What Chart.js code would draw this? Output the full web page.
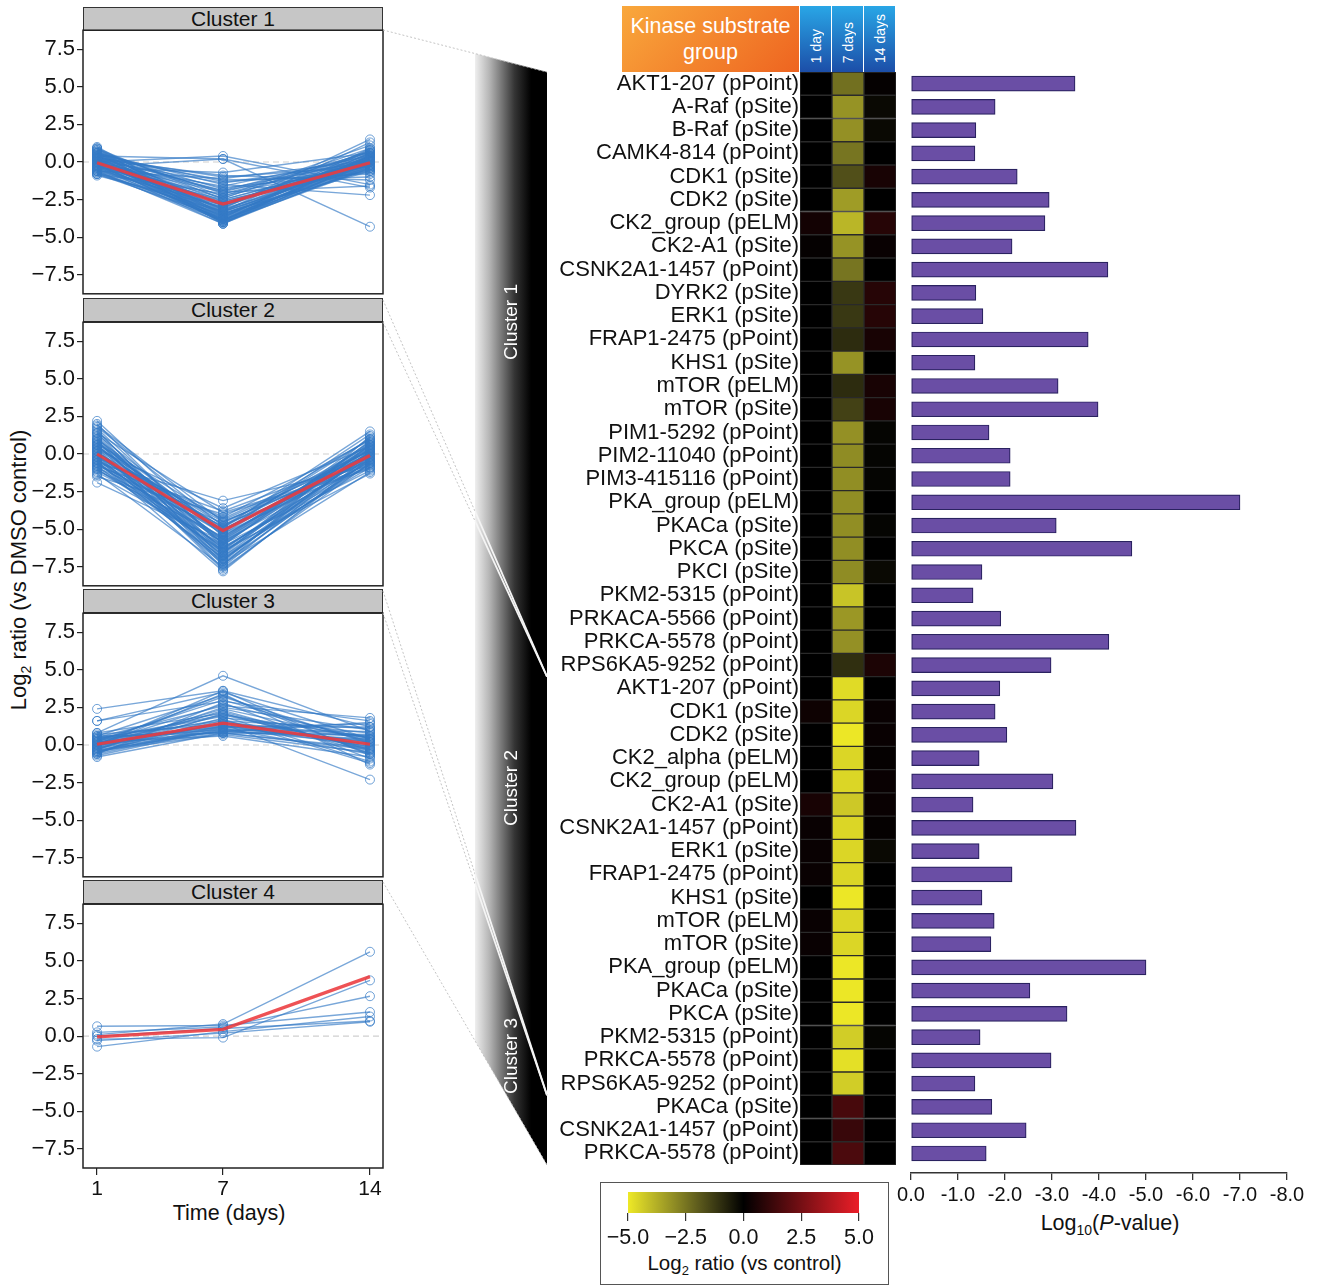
<!DOCTYPE html>
<html>
<head>
<meta charset="utf-8">
<script src="https://cdn.jsdelivr.net/npm/chart.js@4.4.1/dist/chart.umd.min.js"></script>
<style>
  body { margin: 0; background: #fff; font-family: "Liberation Sans", Arial, sans-serif; color: #111; }
  #page { position: relative; width: 1321px; height: 1286px; overflow: hidden; }
  canvas { position: absolute; }
  .hdr { position: absolute; left: 83px; width: 300px; height: 24px; box-sizing: border-box;
         background: #c6c6c6; border: 1.5px solid #333; font-size: 21px; line-height: 21px; text-align: center; }
  .txt { position: absolute; white-space: nowrap; }
  .colh { position: absolute; top: 6px; width: 31px; height: 66px; background: linear-gradient(to bottom, #29a6e6, #1c4ea8);
          display: flex; align-items: flex-end; justify-content: center; color: #fff; font-size: 14px; }
  .colh span { writing-mode: vertical-rl; transform: rotate(180deg); margin-bottom: 9px; }
</style>
</head>
<body>
<div id="page">
  <div class="hdr" style="top:7px">Cluster 1</div>
  <div class="hdr" style="top:298px">Cluster 2</div>
  <div class="hdr" style="top:589px">Cluster 3</div>
  <div class="hdr" style="top:880px">Cluster 4</div>

  <div class="txt" style="left:20px;top:570px;font-size:22px;transform:translate(-50%,-50%) rotate(-90deg)">Log<sub style="font-size:14px">2</sub> ratio (vs DMSO control)</div>
  <div class="txt" style="left:129px;top:1201px;width:200px;text-align:center;font-size:21.5px">Time (days)</div>

  <div style="position:absolute;left:622px;top:6px;width:177px;height:66px;background:linear-gradient(135deg,#f9a83c,#ee6420);color:#fff;font-size:21.5px;line-height:26px;text-align:center;padding-top:7px;box-sizing:border-box">Kinase substrate<br>group</div>
  <div class="colh" style="left:800px"><span>1 day</span></div>
  <div class="colh" style="left:832px"><span>7 days</span></div>
  <div class="colh" style="left:864px"><span>14 days</span></div>

  <div style="position:absolute;left:600px;top:1182px;width:289px;height:103px;border:1.5px solid #555;box-sizing:border-box"></div>
  <div class="txt" style="left:600px;top:1251px;width:289px;text-align:center;font-size:20.5px">Log<sub style="font-size:13px">2</sub> ratio (vs control)</div>
  <div class="txt" style="left:990px;top:1211px;width:240px;text-align:center;font-size:21.5px">Log<sub style="font-size:14px">10</sub>(<i>P</i>-value)</div>

  <canvas id="c1"></canvas>
  <canvas id="c2"></canvas>
  <canvas id="c3"></canvas>
  <canvas id="c4"></canvas>
  <canvas id="heat"></canvas>
  <canvas id="bars"></canvas>
  <canvas id="cbar"></canvas>
</div>
<script>
// ---- data ----
var timePoints = [1, 7, 14];
var yTicks = [-7.5, -5, -2.5, 0, 2.5, 5, 7.5];
var pTicks = [0, -1, -2, -3, -4, -5, -6, -7, -8];
var colorbarTicks = [-5, -2.5, 0, 2.5, 5];

// individual profiles (day 1, day 7, day 14)
var cluster1Lines = [
  [0.9,-3.9,0.3],[1.0,-3.5,0.6],[0.7,-4.1,-0.2],[0.5,-3.8,0.1],[0.3,-3.2,0.4],[0.2,-4.0,0.0],[0.0,-3.6,-0.3],
  [-0.2,-3.9,0.2],[-0.4,-3.4,-0.5],[-0.6,-4.1,0.5],[-0.8,-3.7,-0.1],[-0.9,-3.0,0.3],[0.6,-2.9,0.8],[0.4,-2.6,-0.4],
  [0.1,-2.8,0.2],[-0.1,-2.4,0.9],[-0.3,-2.2,-0.6],[-0.5,-2.7,0.0],[0.8,-2.3,1.1],[0.3,-1.9,-0.2],[-0.2,-1.6,0.4],
  [0.5,-1.3,-0.8],[-0.6,-1.1,0.1],[0.2,-0.9,-1.2],[-0.4,-0.7,0.6],[0.7,-3.3,1.3],[0.0,0.4,-1.5],[-0.3,0.2,-4.3],
  [0.4,0.2,-1.7],[0.6,-1.5,-2.2],[-0.1,-2.0,-1.6],[0.2,-3.1,1.5],[-0.7,-3.5,-0.2],[0.1,-4.0,-0.4],[-0.5,-3.0,0.7],
  [0.9,-2.5,0.0],[-0.8,-2.1,-0.3],[0.3,-1.2,-1.0],[-0.2,-3.8,0.3],[0.5,-2.0,0.5],[0.0,-3.3,-0.1],[-0.6,-2.9,0.2],
  [0.2,-1.7,-0.7],[0.6,-3.7,0.9],[-0.3,-4.1,0.1],
  [0.8,-3.6,0.4],[0.4,-3.9,-0.1],[0.1,-3.7,0.6],[-0.3,-3.3,0.0],[-0.7,-3.9,0.3],[0.6,-4.0,-0.3],[0.3,-3.5,0.2],
  [-0.1,-3.1,-0.2],[-0.5,-3.6,0.4],[0.2,-2.7,-0.5],[0.7,-2.1,0.3],[-0.4,-2.5,0.1],[0.0,-1.9,0.6],[0.5,-3.4,-0.6],
  [-0.2,-2.9,0.5],[0.9,-3.2,0.2],[-0.6,-3.8,-0.4],[0.1,-1.4,0.0],[0.4,-2.4,0.7],[-0.8,-3.3,0.1],[0.2,-3.9,0.8],
  [-0.3,-2.6,-0.2],[0.6,-1.8,0.1],[-0.1,-4.0,0.4],[0.3,-1.0,-0.3]
];
var cluster1Mean = [-0.05, -2.8, -0.05];

var cluster2Lines = [
  [2.2,-5.5,0.3],[2.0,-6.2,-0.5],[1.8,-4.8,1.0],[1.6,-7.0,0.2],[1.4,-3.9,-0.9],[1.2,-6.6,0.6],[1.0,-5.1,-0.2],
  [0.9,-7.4,1.2],[0.7,-4.4,0.0],[0.6,-6.0,-1.1],[0.5,-5.7,0.8],[0.4,-7.7,-0.3],[0.3,-3.6,0.5],[0.2,-6.8,-0.7],
  [0.1,-4.9,1.5],[0.0,-5.9,0.1],[-0.1,-7.2,-0.4],[-0.2,-4.2,0.9],[-0.3,-6.4,-1.3],[-0.4,-5.3,0.4],[-0.5,-7.8,-0.1],
  [-0.6,-3.1,-0.8],[-0.7,-5.6,0.7],[-0.8,-6.9,-0.6],[-0.9,-4.6,0.2],[-1.0,-6.1,1.1],[-1.1,-5.0,-0.2],[-1.3,-7.5,0.3],
  [-1.5,-4.0,-1.0],[-1.9,-5.8,-0.5],[1.5,-6.5,0.0],[0.8,-5.4,-0.3],[-0.2,-6.7,0.6],[0.4,-4.7,-0.9],[1.1,-7.1,0.4],
  [-0.6,-5.2,1.3],[0.2,-6.3,-0.1],[-0.4,-4.3,0.2],[0.6,-7.6,-0.6],[-1.2,-5.5,0.5],[1.9,-4.5,-0.4],[0.0,-6.6,0.9],
  [-0.8,-3.8,-0.2],[0.9,-5.9,0.7],[-0.3,-7.3,-1.2],
  [1.7,-6.0,0.4],[1.3,-5.3,-0.6],[0.8,-6.8,0.1],[0.5,-4.9,0.6],[0.2,-7.0,-0.2],[-0.1,-5.6,0.3],[-0.4,-6.2,-0.7],
  [-0.7,-4.8,0.0],[-1.0,-6.4,0.5],[0.3,-5.0,-0.4],[1.0,-5.8,0.8],[-0.5,-7.1,0.2],[0.6,-6.3,-0.1],[-0.2,-5.1,1.0],
  [1.4,-7.3,-0.3],[-0.9,-5.7,0.1],[0.1,-4.5,-0.5],[-1.4,-6.0,0.6],[0.7,-5.2,0.3],[-0.6,-6.5,-0.9]
];
var cluster2Mean = [0.0, -5.1, -0.1];

var cluster3Lines = [
  [2.4,3.6,1.2],[1.6,3.5,0.4],[1.6,2.9,1.6],[0.8,4.6,0.9],[0.6,3.3,-0.6],[0.5,2.6,1.8],[0.4,1.9,-1.1],[0.3,3.0,0.2],
  [0.2,1.2,1.4],[0.1,2.2,-0.3],[0.0,0.9,0.6],[-0.1,3.4,-1.3],[-0.2,1.5,0.0],[-0.3,2.5,1.0],[-0.4,0.7,-0.5],
  [-0.5,1.8,0.8],[-0.6,2.8,-0.9],[-0.7,1.1,0.3],[-0.8,0.8,-0.2],[0.7,1.4,-2.3],[0.4,2.0,0.5],[0.2,0.6,-0.8],
  [-0.1,1.6,1.1],[0.5,1.0,0.1],[-0.3,2.3,-0.4],[0.6,0.8,0.7],[-0.5,1.3,-0.1],[0.1,2.7,0.4],[0.3,1.7,-1.2],
  [-0.2,0.9,1.5],[0.0,3.6,-0.7],[-0.6,1.2,0.2],[0.8,2.1,-0.3],[-0.4,1.5,0.6],[0.2,1.1,-0.6],[-0.1,2.4,0.3],
  [0.3,1.3,0.2],[-0.2,2.0,-0.2],[0.1,0.9,0.4],[-0.4,1.0,0.9],[0.5,1.6,-0.1],[0.0,1.4,0.5],[-0.3,0.8,-0.3],
  [0.2,3.2,0.1],[0.4,1.2,1.2],[-0.5,2.1,-0.5]
];
var cluster3Mean = [0.05, 1.45, 0.05];

var cluster4Lines = [
  [0.1,0.8,5.6],[-0.2,-0.1,3.7],[0.25,0.6,2.65],[0.65,0.7,1.6],[-0.7,0.3,1.3],[0.0,0.5,1.0],[-0.3,0.2,0.95]
];
var cluster4Mean = [-0.05, 0.45, 3.95];

// heatmap rows
var kinaseLabels = [
  'AKT1-207 (pPoint)','A-Raf (pSite)','B-Raf (pSite)','CAMK4-814 (pPoint)','CDK1 (pSite)','CDK2 (pSite)',
  'CK2_group (pELM)','CK2-A1 (pSite)','CSNK2A1-1457 (pPoint)','DYRK2 (pSite)','ERK1 (pSite)','FRAP1-2475 (pPoint)',
  'KHS1 (pSite)','mTOR (pELM)','mTOR (pSite)','PIM1-5292 (pPoint)','PIM2-11040 (pPoint)','PIM3-415116 (pPoint)',
  'PKA_group (pELM)','PKACa (pSite)','PKCA (pSite)','PKCI (pSite)','PKM2-5315 (pPoint)','PRKACA-5566 (pPoint)',
  'PRKCA-5578 (pPoint)','RPS6KA5-9252 (pPoint)',
  'AKT1-207 (pPoint)','CDK1 (pSite)','CDK2 (pSite)','CK2_alpha (pELM)','CK2_group (pELM)','CK2-A1 (pSite)',
  'CSNK2A1-1457 (pPoint)','ERK1 (pSite)','FRAP1-2475 (pPoint)','KHS1 (pSite)','mTOR (pELM)','mTOR (pSite)',
  'PKA_group (pELM)','PKACa (pSite)','PKCA (pSite)','PKM2-5315 (pPoint)','PRKCA-5578 (pPoint)','RPS6KA5-9252 (pPoint)',
  'PKACa (pSite)','CSNK2A1-1457 (pPoint)','PRKCA-5578 (pPoint)'
];
var clusterSizes = [26, 18, 3];
var day1Vals = [
  0,0,0,0,0,0,0.4,0.1,0,0,0,0,0,0,0,0,0,0,0,0,0,0,0,0,0,0,
  0,0.3,0,0,0,0.5,0.2,0.2,0.2,0,0.2,0.2,0,0,0,0,0,0,
  0,0,0
];
var day7Vals = [
  -2.4,-3.15,-3.1,-2.5,-1.7,-3.35,-3.9,-3.15,-2.5,-1.2,-1.2,-0.95,-3.15,-0.95,-1.4,-3.1,-3.0,-3.05,-3.05,-3.05,
  -3.05,-3.0,-4.2,-3.25,-3.1,-1.0,
  -4.7,-4.6,-4.95,-4.6,-4.6,-4.3,-4.6,-4.6,-4.6,-4.95,-4.6,-4.6,-4.95,-4.95,-4.95,-4.4,-4.8,-4.4,
  1.5,1.2,1.6
];
var day14Vals = [
  0.1,-0.2,-0.2,0,0.5,0,0.8,0.2,0,0.8,0.8,0.5,0,0.5,0.5,-0.1,-0.1,-0.1,0,-0.1,0,-0.2,0,0,0,0.6,
  0,0.2,0.2,0.1,0.2,0.2,0.1,-0.2,0,0,0,0,0,0,0,-0.1,0,0,
  0,0,0
];
var logP = [
  -3.49,-1.79,-1.38,-1.36,-2.26,-2.94,-2.85,-2.15,-4.19,-1.38,-1.53,-3.77,-1.36,-3.13,-3.98,-1.66,-2.11,-2.11,
  -7.0,-3.09,-4.70,-1.51,-1.32,-1.91,-4.21,-2.98,
  -1.89,-1.79,-2.04,-1.45,-3.02,-1.32,-3.51,-1.45,-2.15,-1.51,-1.77,-1.70,-5.0,-2.53,-3.32,-1.47,-2.98,-1.36,
  -1.72,-2.45,-1.60
];

// ---- helpers ----
Chart.defaults.font.family = '"Liberation Sans", Arial, sans-serif';
Chart.defaults.color = '#111';
Chart.defaults.animation = false;
Chart.defaults.plugins.legend.display = false;
Chart.defaults.plugins.tooltip.enabled = false;

function place(id, left, top, w, h) {
  var c = document.getElementById(id);
  c.width = w; c.height = h;
  c.style.left = left + 'px'; c.style.top = top + 'px';
  c.style.width = w + 'px'; c.style.height = h + 'px';
  return c;
}

function minusFmt(v) {
  return (v < 0 ? '\u2212' : '') + Math.abs(v).toFixed(1);
}

function heatColor(v) {
  var t = Math.min(1, Math.abs(v) / 5);
  if (v < 0) return 'rgb(' + Math.round(238 * t) + ',' + Math.round(233 * t) + ',' + Math.round(38 * t + 14 * Math.sin(Math.PI * t)) + ')';
  return 'rgb(' + Math.round(235 * t) + ',' + Math.round(30 * t) + ',' + Math.round(40 * t) + ')';
}

function toPts(arr) {
  return arr.map(function (v, i) { return { x: timePoints[i], y: v }; });
}

var framePlugin = {
  id: 'frame',
  beforeDatasetsDraw: function (chart) {
    var ctx = chart.ctx, a = chart.chartArea, y0 = chart.scales.y.getPixelForValue(0);
    ctx.save();
    ctx.strokeStyle = '#cfcfcf';
    ctx.lineWidth = 1.2;
    ctx.setLineDash([6, 4]);
    ctx.beginPath(); ctx.moveTo(a.left, y0); ctx.lineTo(a.right, y0); ctx.stroke();
    ctx.restore();
  },
  afterDraw: function (chart) {
    var ctx = chart.ctx, a = chart.chartArea;
    ctx.save();
    ctx.strokeStyle = '#222';
    ctx.lineWidth = 1.5;
    ctx.strokeRect(a.left, a.top, a.right - a.left, a.bottom - a.top);
    ctx.restore();
  }
};

function makeCluster(id, top, lines, mean, showX) {
  var h = showX ? 15 + 264 + 40 : 15 + 264 + 15;
  var canvas = place(id, 0, top - 15, 390, h);
  var datasets = [{
    data: toPts(mean), borderColor: 'rgba(236,58,62,0.88)', borderWidth: 3.2, pointRadius: 0, order: -1
  }];
  lines.forEach(function (l) {
    datasets.push({
      data: toPts(l), borderColor: 'rgba(52,122,198,0.66)', borderWidth: 1.4,
      pointRadius: 4.5, pointBorderWidth: 1, pointBorderColor: 'rgba(52,122,198,0.7)',
      pointBackgroundColor: 'rgba(0,0,0,0)'
    });
  });
  new Chart(canvas, {
    type: 'line',
    data: { datasets: datasets },
    options: {
      responsive: false,
      layout: { padding: { top: 15, bottom: showX ? 0 : 15, left: 0, right: 7 } },
      scales: {
        x: {
          type: 'linear', min: 0.33, max: 14.62, display: showX,
          afterBuildTicks: function (s) { s.ticks = timePoints.map(function (v) { return { value: v }; }); },
          afterFit: function (s) { s.height = showX ? 40 : 0; },
          grid: { drawOnChartArea: false, tickLength: 7, color: '#222', lineWidth: 1.2 },
          border: { display: false },
          ticks: { font: { size: 21 }, padding: 2, color: '#111' }
        },
        y: {
          min: -8.76, max: 8.76,
          afterBuildTicks: function (s) { s.ticks = yTicks.map(function (v) { return { value: v }; }); },
          afterFit: function (s) { s.width = 83; },
          grid: { drawOnChartArea: false, tickLength: 6, color: '#222', lineWidth: 1.2 },
          border: { display: false },
          ticks: { font: { size: 22 }, padding: 2, color: '#111', callback: minusFmt }
        }
      }
    },
    plugins: [framePlugin]
  });
}

makeCluster('c1', 30, cluster1Lines, cluster1Mean, false);
makeCluster('c2', 322, cluster2Lines, cluster2Mean, false);
makeCluster('c3', 613, cluster3Lines, cluster3Mean, false);
makeCluster('c4', 904, cluster4Lines, cluster4Mean, true);

// ---- heatmap with the cluster wedge ----
var HX = 380; // canvas left on the page
var wedgePlugin = {
  id: 'wedge',
  beforeDraw: function (chart) {
    var ctx = chart.ctx, y = chart.scales.y, a = chart.chartArea;
    var b1 = (y.getPixelForValue(clusterSizes[0] - 1) + y.getPixelForValue(clusterSizes[0])) / 2;
    var k = clusterSizes[0] + clusterSizes[1];
    var b2 = (y.getPixelForValue(k - 1) + y.getPixelForValue(k)) / 2;
    var x0 = 383 - HX, xl = 475 - HX, xr = 547 - HX;
    var topY = function (x) { return 30 + (x - x0) / (xr - x0) * (a.top - 30); };
    var botY = function (x) { return 882 + (x - x0) / (xr - x0) * (a.bottom - 882); };
    var poly = [[xl, topY(xl)], [xr, a.top], [xr, a.bottom], [xl, botY(xl)]];
    ctx.save();
    var g = ctx.createLinearGradient(xl, 0, xr, 0);
    g.addColorStop(0, '#efefef');
    g.addColorStop(0.2, '#b5b5b5');
    g.addColorStop(0.55, '#343434');
    g.addColorStop(0.78, '#000');
    g.addColorStop(1, '#000');
    ctx.fillStyle = g;
    ctx.beginPath();
    poly.forEach(function (p, i) { if (i) ctx.lineTo(p[0], p[1]); else ctx.moveTo(p[0], p[1]); });
    ctx.closePath();
    ctx.fill();

    var links = [
      [x0, 30, xr, a.top], [x0, 300, xr, b1], [x0, 322, xr, b1],
      [x0, 591, xr, b2], [x0, 613, xr, b2], [x0, 882, xr, a.bottom]
    ];
    ctx.strokeStyle = '#c4c4c4';
    ctx.lineWidth = 1;
    ctx.setLineDash([2, 2]);
    links.forEach(function (l) { ctx.beginPath(); ctx.moveTo(l[0], l[1]); ctx.lineTo(l[2], l[3]); ctx.stroke(); });
    ctx.setLineDash([]);
    ctx.save();
    ctx.beginPath();
    poly.forEach(function (p, i) { if (i) ctx.lineTo(p[0], p[1]); else ctx.moveTo(p[0], p[1]); });
    ctx.closePath();
    ctx.clip();
    ctx.strokeStyle = '#f4f4f4';
    ctx.lineWidth = 1.8;
    links.slice(1, 5).forEach(function (l) { ctx.beginPath(); ctx.moveTo(l[0], l[1]); ctx.lineTo(l[2], l[3]); ctx.stroke(); });
    ctx.restore();

    ctx.fillStyle = '#fff';
    ctx.font = '19px "Liberation Sans", Arial, sans-serif';
    ctx.textAlign = 'center';
    ctx.textBaseline = 'middle';
    [['Cluster 1', 322], ['Cluster 2', 788], ['Cluster 3', 1056]].forEach(function (t) {
      ctx.save();
      ctx.translate(512 - HX, t[1]);
      ctx.rotate(-Math.PI / 2);
      ctx.fillText(t[0], 0, 0);
      ctx.restore();
    });
    ctx.restore();
  }
};

var heatCols = [day1Vals, day7Vals, day14Vals];
new Chart(place('heat', HX, 0, 520, 1180), {
  type: 'bar',
  data: {
    labels: kinaseLabels,
    datasets: heatCols.map(function (vals, c) {
      return {
        data: vals.map(function () { return [c, c + 1]; }),
        backgroundColor: vals.map(heatColor),
        borderColor: '#2a2a2a',
        borderWidth: 1,
        borderSkipped: false,
        grouped: false,
        barPercentage: 1,
        categoryPercentage: 1
      };
    })
  },
  options: {
    responsive: false,
    indexAxis: 'y',
    layout: { padding: { top: 72, bottom: 15, left: 0, right: 4 } },
    scales: {
      x: { type: 'linear', min: 0, max: 3, display: false },
      y: {
        type: 'category',
        grid: { display: false, drawTicks: false, tickLength: 0 },
        border: { display: false },
        afterFit: function (s) { s.width = 420; },
        ticks: { autoSkip: false, font: { size: 22 }, color: '#111', padding: 1 }
      }
    }
  },
  plugins: [wedgePlugin]
});

// ---- P-value bars ----
new Chart(place('bars', 881, 57, 440, 1156), {
  type: 'bar',
  data: {
    datasets: [{
      data: logP.map(function (v, i) { return { x: v, y: i }; }),
      backgroundColor: '#6a4ea5',
      borderColor: '#2a2260',
      borderWidth: 1.2,
      borderSkipped: false,
      barThickness: 15
    }]
  },
  options: {
    responsive: false,
    indexAxis: 'y',
    layout: { padding: { top: 15, bottom: 0, left: 30, right: 34 } },
    scales: {
      y: { type: 'linear', min: -0.5, max: 46.84, reverse: true, offset: false, display: false },
      x: {
        type: 'linear', min: -8, max: 0, reverse: true,
        afterBuildTicks: function (s) { s.ticks = pTicks.map(function (v) { return { value: v }; }); },
        afterFit: function (s) { s.height = 40; },
        grid: { drawOnChartArea: false, tickLength: 7, color: '#333', lineWidth: 1.3 },
        border: { display: true, color: '#333', width: 1.5 },
        ticks: { font: { size: 20 }, color: '#111', padding: 3, callback: function (v) { return v.toFixed(1); } }
      }
    }
  }
});

// ---- colour key ----
var gradientPlugin = {
  id: 'gradient',
  beforeDatasetsDraw: function (chart) {
    var ctx = chart.ctx, a = chart.chartArea;
    var g = ctx.createLinearGradient(a.left, 0, a.right, 0);
    for (var s = 0; s <= 10; s++) g.addColorStop(s / 10, heatColor(-5 + s));
    ctx.save();
    ctx.fillStyle = g;
    ctx.fillRect(a.left, a.top, a.right - a.left, a.bottom - a.top);
    ctx.restore();
  }
};
new Chart(place('cbar', 600, 1177, 289, 76), {
  type: 'scatter',
  data: { datasets: [{ data: [] }] },
  options: {
    responsive: false,
    layout: { padding: { top: 15, bottom: 0, left: 28, right: 30 } },
    scales: {
      y: { min: 0, max: 1, display: false },
      x: {
        type: 'linear', min: -5, max: 5,
        afterBuildTicks: function (s) { s.ticks = colorbarTicks.map(function (v) { return { value: v }; }); },
        afterFit: function (s) { s.height = 40; },
        grid: { drawOnChartArea: false, tickLength: 8, color: '#333', lineWidth: 1.2 },
        border: { display: false },
        ticks: { font: { size: 21.5 }, color: '#111', padding: 4, callback: minusFmt }
      }
    }
  },
  plugins: [gradientPlugin]
});
</script>
</body>
</html>
